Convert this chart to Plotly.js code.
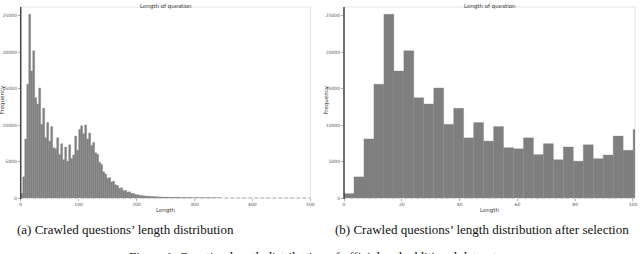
<!DOCTYPE html>
<html>
<head>
<meta charset="utf-8">
<script src="https://cdn.plot.ly/plotly-3.0.1.min.js"></script>
<style>html,body{margin:0;padding:0;background:#fff;}#chart{width:640px;height:254px;}</style>
</head>
<body>
<div id="chart"></div>
<script>
// ---- data ----
const binWidth = 3.45;          // histogram bin width (question length units)
// counts per bin, starting at length 0
const countsAll = [600, 2900, 8100, 15600, 25200, 17400, 20200, 13750, 12900, 15100,
  10100, 12300, 8250, 10350, 7800, 9800, 6900, 6750, 8250, 5950,
  7450, 5250, 7000, 5050, 7300, 5400, 5900, 8500, 6550, 9400,
  9900, 8800, 10000, 8100, 8900, 7200, 7600, 6200, 6000, 4900,
  4600, 3600, 3300, 2700, 2800, 2200, 2300, 1800, 1700, 1300,
  1400, 1000, 1050, 800, 850, 650, 600, 480, 450, 380,
  350, 300, 280, 250, 230, 210, 200, 180, 170, 150,
  140, 130, 120, 120, 110, 100, 100, 90, 90, 80,
  80, 70, 70, 60, 60, 50, 50, 45, 45, 40,
  40, 35, 35, 30, 30, 25, 25, 20, 20, 15];
// after selection: lengths up to 100 only
const nSelectedBins = 30;
const countsSelected = countsAll.slice(0, nSelectedBins);

const xTicksA = [0, 100, 200, 300, 400, 500];
const xTicksB = [0, 20, 40, 60, 80, 100];
const yTicks = [0, 5000, 10000, 15000, 20000, 25000];

const plotTitle = "Length of question";
const xTitle = "Length";
const yTitle = "Frequency";
const captionA = "(a) Crawled questions’ length distribution";
const captionB = "(b) Crawled questions’ length distribution after selection";
const figCaption = "Figure 1: Question length distribution of official and additional datasets";

// ---- build ----
const leftEdges = countsAll.map((_, i) => i * binWidth);
const leftEdgesSel = countsSelected.map((_, i) => i * binWidth);

const W = 640, H = 254;
const px = v => v / W, py = v => 1 - v / H;

const barColor = '#7f7f7f';
const traces = [
  {type: 'bar', x: leftEdges, y: countsAll, width: binWidth, offset: 0,
   marker: {color: barColor, line: {color: barColor, width: 0.3}}, xaxis: 'x', yaxis: 'y', hoverinfo: 'none'},
  {type: 'bar', x: leftEdgesSel, y: countsSelected, width: binWidth, offset: 0,
   marker: {color: barColor, line: {color: barColor, width: 0.3}}, xaxis: 'x2', yaxis: 'y2', hoverinfo: 'none'}
];

const A = {x0: 20.7, x1: 310.5, y0: 7, y1: 198};
const B = {x0: 344, x1: 635, y0: 7, y1: 198};
const yMax = 26190;

const tickFont = {family: 'DejaVu Sans', size: 4.5, color: '#555'};
const axisCommon = {showgrid: false, zeroline: false, showline: false, ticks: 'outside',
  ticklen: 2, tickwidth: 0.6, tickcolor: '#777', tickfont: tickFont, fixedrange: true};

const layout = {
  width: W, height: H, autosize: false,
  margin: {l: 0, r: 0, t: 0, b: 0, pad: 0},
  paper_bgcolor: '#fff', plot_bgcolor: '#fff',
  showlegend: false, bargap: 0,
  xaxis: Object.assign({}, axisCommon, {domain: [px(A.x0), px(A.x1)], range: [0, 500.3],
    tickvals: xTicksA, ticktext: xTicksA.map(String), anchor: 'y'}),
  yaxis: Object.assign({}, axisCommon, {domain: [py(A.y1), py(A.y0)], range: [0, yMax],
    tickvals: yTicks, ticktext: yTicks.map(String), anchor: 'x'}),
  xaxis2: Object.assign({}, axisCommon, {domain: [px(B.x0), px(B.x1)], range: [0, 100.7],
    tickvals: xTicksB, ticktext: xTicksB.map(String), anchor: 'y2'}),
  yaxis2: Object.assign({}, axisCommon, {domain: [py(B.y1), py(B.y0)], range: [0, yMax],
    tickvals: yTicks, ticktext: yTicks.map(String), anchor: 'x2'}),
  shapes: [],
  annotations: []
};

[A, B].forEach(P => {
  // light frame
  layout.shapes.push({type: 'rect', xref: 'paper', yref: 'paper',
    x0: px(P.x0), x1: px(P.x1), y0: py(P.y1), y1: py(P.y0),
    line: {color: '#dddddd', width: 0.8}, layer: 'below'});
  // dotted baseline
  layout.shapes.push({type: 'line', xref: 'paper', yref: 'paper',
    x0: px(P.x0), x1: px(P.x1), y0: py(P.y1), y1: py(P.y1),
    line: {color: '#999', width: 0.8, dash: 'dot'}, layer: 'above'});
  // dark left spine
  layout.shapes.push({type: 'line', xref: 'paper', yref: 'paper',
    x0: px(P.x0), x1: px(P.x0), y0: py(P.y1 + 1), y1: py(P.y0),
    line: {color: '#444', width: 1.5}, layer: 'above'});
  const cx = (P.x0 + P.x1) / 2;
  layout.annotations.push({xref: 'paper', yref: 'paper', x: px(cx), y: py(0.5), xanchor: 'center', yanchor: 'top',
    text: plotTitle, showarrow: false, font: {family: 'DejaVu Sans', size: 5.5, color: '#333'}});
  layout.annotations.push({xref: 'paper', yref: 'paper', x: px(cx), y: py(205), xanchor: 'center', yanchor: 'top',
    text: xTitle, showarrow: false, font: {family: 'DejaVu Sans', size: 5.5, color: '#333'}});
  layout.annotations.push({xref: 'paper', yref: 'paper', x: px(P.x0 - 17.5), y: py(100), xanchor: 'center', yanchor: 'middle',
    text: yTitle, textangle: -90, showarrow: false, font: {family: 'DejaVu Sans', size: 5.5, color: '#333'}});
});

const capFont = {family: 'Liberation Serif', size: 13, color: '#111'};
layout.annotations.push({xref: 'paper', yref: 'paper', x: px(125), y: py(229), xanchor: 'center', yanchor: 'middle',
  text: captionA, showarrow: false, font: capFont});
layout.annotations.push({xref: 'paper', yref: 'paper', x: px(482), y: py(229), xanchor: 'center', yanchor: 'middle',
  text: captionB, showarrow: false, font: capFont});
layout.annotations.push({xref: 'paper', yref: 'paper', x: px(315), y: py(246.5), xanchor: 'center', yanchor: 'top',
  text: figCaption, showarrow: false, font: capFont});

Plotly.newPlot('chart', traces, layout, {staticPlot: true, displayModeBar: false});
</script>
</body>
</html>
